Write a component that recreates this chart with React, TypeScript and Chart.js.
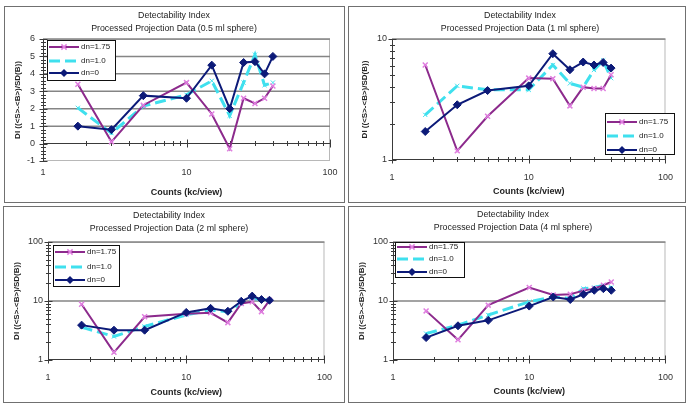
import React, { useEffect, useRef } from "react";
import { Chart, registerables } from "chart.js";

Chart.register(...registerables);

const FONT = '"Liberation Sans", Arial, Helvetica, sans-serif';
Chart.defaults.font.family = FONT;

// ---------------- data ----------------
const countsKcView = [1.75, 3, 5, 10, 15, 20, 25, 30, 35, 40];
const xTickValues = [1, 10, 100];
const seriesLabels = ["dn=1.75", "dn=1.0", "dn=0"];
const mainTitle = "Detectability Index";
const xTitle = "Counts (kc/view)";
const yTitle = "DI ((<S>-<B>)/SD(B))";

// 0.5 ml sphere (linear y)
const sphere05Title = "Processed Projection Data (0.5 ml sphere)";
const sphere05_dn175 = [3.4, 0.1, 2.2, 3.5, 1.7, -0.3, 2.6, 2.3, 2.6, 3.3];
const sphere05_dn10 = [2.05, 0.6, 2.15, 2.8, 3.6, 1.6, 3.5, 5.1, 3.35, 3.5];
const sphere05_dn0 = [1.0, 0.8, 2.75, 2.6, 4.5, 2.0, 4.65, 4.7, 4.0, 5.0];
const sphere05_yTicks = [-1, 0, 1, 2, 3, 4, 5, 6];

// 1 ml sphere (log y)
const sphere1Title = "Processed Projection Data (1 ml sphere)";
const sphere1_dn175 = [6.1, 1.19, 2.3, 4.75, 4.7, 2.8, 4.0, 3.9, 3.9, 5.06];
const sphere1_dn10 = [2.36, 4.1, 3.8, 3.8, 6.1, 4.3, 4.0, 5.55, 6.65, 4.75];
const sphere1_dn0 = [1.72, 2.86, 3.75, 4.1, 7.56, 5.57, 6.45, 6.1, 6.4, 5.75];
const sphere1_yTicks = [1, 10];

// 2 ml sphere (log y)
const sphere2Title = "Processed Projection Data (2 ml sphere)";
const sphere2_dn175 = [8.8, 1.35, 5.4, 6.1, 6.3, 4.3, 9.1, 9.7, 6.6, 10.3];
const sphere2_dn10 = [3.6, 2.5, 3.7, 5.8, 7.0, 6.6, 9.1, 11.0, 10.6, 10.3];
const sphere2_dn0 = [3.9, 3.2, 3.2, 6.4, 7.5, 6.7, 9.9, 12.1, 10.6, 10.3];
const sphere2_yTicks = [1, 10, 100];

// 4 ml sphere (log y)
const sphere4Title = "Processed Projection Data (4 ml sphere)";
const sphere4_dn175 = [6.8, 2.2, 8.5, 16.9, 12.6, 13.0, 15.0, 16.2, 18.5, 21.0];
const sphere4_dn10 = [2.8, 3.9, 5.8, 9.7, 11.7, 11.0, 16.2, 16.9, 18.5, 16.9];
const sphere4_dn0 = [2.4, 3.8, 4.7, 8.2, 11.7, 10.6, 13.0, 15.2, 16.2, 15.2];
const sphere4_yTicks = [1, 10, 100];

// ---------------- styles ----------------
const PURPLE = "#8c2a8c";
const PINK = "#e07ee0";
const CYAN = "#3fe0ee";
const NAVY = "#0c1a78";

function logMinor(min: number, max: number) {
  const out: number[] = [];
  for (let d = min; d < max; d *= 10) {
    for (let k = 2; k <= 9; k++) out.push(k * d);
  }
  return out;
}
function linMinor(min: number, max: number, step: number) {
  const out: number[] = [];
  const n = Math.round((max - min) / step);
  for (let i = 0; i <= n; i++) out.push(min + i * step);
  return out;
}

const decorPlugin = {
  id: "decor",
  beforeDatasetsDraw(chart: any, _a: any, o: any) {
    const { ctx, chartArea: a } = chart;
    const xs = chart.scales.x;
    const ys = chart.scales.y;
    const seg = (x1: number, y1: number, x2: number, y2: number) => {
      ctx.beginPath();
      ctx.moveTo(x1, y1);
      ctx.lineTo(x2, y2);
      ctx.stroke();
    };
    ctx.save();
    ctx.strokeStyle = "#b8b8b8";
    ctx.lineWidth = 1;
    ctx.strokeRect(a.left + 0.5, a.top + 0.5, a.right - a.left - 1, a.bottom - a.top - 1);
    ctx.strokeStyle = "#858585";
    ctx.lineWidth = 1.5;
    o.grid.forEach((v: number) => {
      const y = ys.getPixelForValue(v);
      seg(a.left, y, a.right, y);
    });
    ctx.strokeStyle = "#3a3a3a";
    ctx.lineWidth = 1;
    const ax = a.left + 0.5;
    seg(ax, a.top, ax, a.bottom);
    o.yMinor.forEach((v: number) => {
      const y = Math.round(ys.getPixelForValue(v)) + 0.5;
      seg(ax - 2.5, y, ax + 2.5, y);
    });
    o.yMajor.forEach((v: number) => {
      const y = Math.round(ys.getPixelForValue(v)) + 0.5;
      seg(ax - 4, y, ax + 4, y);
    });
    const y0 = Math.round(ys.getPixelForValue(o.xCross)) - 0.5;
    seg(a.left, y0, a.right, y0);
    o.xMinor.forEach((v: number) => {
      const x = Math.round(xs.getPixelForValue(v)) + 0.5;
      seg(x, y0 - 2.5, x, y0 + 2.5);
    });
    o.xMajor.forEach((v: number) => {
      const x = Math.round(xs.getPixelForValue(v)) + 0.5;
      seg(x, y0 - 4, x, y0 + 4);
    });
    ctx.restore();
  },
  afterDraw(chart: any, _a: any, o: any) {
    const { ctx } = chart;
    ctx.save();
    // titles
    ctx.fillStyle = "#222";
    ctx.font = `8.8px ${FONT}`;
    ctx.textAlign = "center";
    ctx.textBaseline = "middle";
    o.titleLines.forEach((t: string, i: number) => {
      ctx.fillText(t, o.titleX, o.titleY + i * o.titleGap);
    });
    // legend
    const L = o.legend;
    ctx.fillStyle = "#fff";
    ctx.fillRect(L.x, L.y, L.w, L.h);
    ctx.strokeStyle = "#111";
    ctx.lineWidth = 1;
    ctx.strokeRect(L.x + 0.5, L.y + 0.5, L.w - 1, L.h - 1);
    chart.data.datasets.forEach((ds: any, i: number) => {
      const ry = L.rows[i];
      const x1 = L.x + 2;
      const x2 = L.x + 32;
      ctx.save();
      ctx.strokeStyle = ds.borderColor;
      ctx.lineWidth = ds.borderWidth;
      ctx.setLineDash(ds.borderDash || []);
      ctx.beginPath();
      ctx.moveTo(x1, ry);
      ctx.lineTo(x2, ry);
      ctx.stroke();
      ctx.setLineDash([]);
      const mx = (x1 + x2) / 2;
      const r = ds.pointRadius;
      if (ds.pointStyle === "rectRot") {
        ctx.fillStyle = ds.pointBackgroundColor;
        ctx.beginPath();
        ctx.moveTo(mx, ry - r);
        ctx.lineTo(mx + r, ry);
        ctx.lineTo(mx, ry + r);
        ctx.lineTo(mx - r, ry);
        ctx.closePath();
        ctx.fill();
      } else if (ds.pointStyle === "crossRot" && ds.legendMarker) {
        ctx.strokeStyle = ds.pointBorderColor;
        ctx.lineWidth = ds.pointBorderWidth;
        const q = r * 0.75;
        ctx.beginPath();
        ctx.moveTo(mx - q, ry - q);
        ctx.lineTo(mx + q, ry + q);
        ctx.moveTo(mx + q, ry - q);
        ctx.lineTo(mx - q, ry + q);
        ctx.stroke();
      }
      ctx.restore();
      ctx.fillStyle = "#222";
      ctx.font = `8px ${FONT}`;
      ctx.textAlign = "left";
      ctx.textBaseline = "middle";
      ctx.fillText(ds.label, L.x + 34, ry);
    });
    ctx.restore();
  },
};

type Spec = {
  left: number;
  top: number;
  w: number;
  h: number;
  area: { left: number; right: number; top: number; bottom: number };
  title: string;
  titleX: number;
  titleY: number;
  yLinear: boolean;
  yTicks: number[];
  series: number[][];
  grid: number[];
  xCross: number;
  yLabelPad: number;
  xLabelPad: number;
  yTitleCenter: number;
  xTitleCenter: number;
  legend: { x: number; y: number; w: number; h: number; rows: number[] };
};

const specs: Spec[] = [
  {
    left: 4, top: 6, w: 341, h: 197,
    area: { left: 38, right: 325, top: 32, bottom: 154 },
    title: sphere05Title, titleX: 169, titleY: 9,
    yLinear: true, yTicks: sphere05_yTicks,
    series: [sphere05_dn175, sphere05_dn10, sphere05_dn0],
    grid: [1, 2, 3, 4, 5, 6], xCross: 0,
    yLabelPad: 8, xLabelPad: 6, yTitleCenter: 13, xTitleCenter: 186,
    legend: { x: 42, y: 33, w: 69, h: 41, rows: [40, 54, 66] },
  },
  {
    left: 348, top: 6, w: 338, h: 197,
    area: { left: 43, right: 328, top: 32, bottom: 153 },
    title: sphere1Title, titleX: 171, titleY: 9,
    yLinear: false, yTicks: sphere1_yTicks,
    series: [sphere1_dn175, sphere1_dn10, sphere1_dn0],
    grid: [10], xCross: 1,
    yLabelPad: 5, xLabelPad: 12, yTitleCenter: 16, xTitleCenter: 185,
    legend: { x: 256, y: 106, w: 70, h: 42, rows: [115, 129, 143] },
  },
  {
    left: 3, top: 206, w: 342, h: 197,
    area: { left: 44, right: 326, top: 35, bottom: 153 },
    title: sphere2Title, titleX: 165, titleY: 9,
    yLinear: false, yTicks: sphere2_yTicks,
    series: [sphere2_dn175, sphere2_dn10, sphere2_dn0],
    grid: [10, 100], xCross: 1,
    yLabelPad: 5, xLabelPad: 12, yTitleCenter: 13, xTitleCenter: 186,
    legend: { x: 49, y: 38, w: 67, h: 42, rows: [45, 60, 73] },
  },
  {
    left: 348, top: 206, w: 338, h: 197,
    area: { left: 44, right: 324, top: 35, bottom: 153 },
    title: sphere4Title, titleX: 164, titleY: 8,
    yLinear: false, yTicks: sphere4_yTicks,
    series: [sphere4_dn175, sphere4_dn10, sphere4_dn0],
    grid: [10, 100], xCross: 1,
    yLabelPad: 5, xLabelPad: 12, yTitleCenter: 13, xTitleCenter: 185,
    legend: { x: 46, y: 35, w: 70, h: 36, rows: [40, 52, 65] },
  },
];

function buildConfig(s: Spec, cw: number, chh: number): any {
  const pts = (vals: number[]) => countsKcView.map((x, i) => ({ x, y: vals[i] }));
  const yMin = s.yTicks[0];
  const yMax = s.yTicks[s.yTicks.length - 1];
  const tickFont = { size: 9, family: FONT };
  const xLh = 9 * 1.2;
  const yLh = 8 * 1.2;
  return {
    type: "line",
    data: {
      datasets: [
        {
          label: seriesLabels[0],
          data: pts(s.series[0]),
          borderColor: PURPLE,
          borderWidth: 2,
          pointStyle: "crossRot",
          pointRadius: 3.5,
          pointBorderColor: PINK,
          pointBackgroundColor: PINK,
          pointBorderWidth: 1.5,
          legendMarker: true,
          order: 1,
        },
        {
          label: seriesLabels[1],
          data: pts(s.series[1]),
          borderColor: CYAN,
          borderWidth: 3,
          borderDash: [11, 5],
          pointStyle: "crossRot",
          pointRadius: 3,
          pointBorderColor: CYAN,
          pointBackgroundColor: CYAN,
          pointBorderWidth: 1,
          legendMarker: false,
          order: 2,
        },
        {
          label: seriesLabels[2],
          data: pts(s.series[2]),
          borderColor: NAVY,
          borderWidth: 2,
          pointStyle: "rectRot",
          pointRadius: 4,
          pointBorderColor: NAVY,
          pointBackgroundColor: NAVY,
          pointBorderWidth: 1,
          order: 0,
        },
      ],
    },
    options: {
      responsive: false,
      maintainAspectRatio: false,
      animation: false,
      devicePixelRatio: 1,
      layout: { padding: { left: 0, right: cw - s.area.right, top: s.area.top, bottom: 0 } },
      plugins: {
        legend: { display: false },
        tooltip: { enabled: false },
        title: { display: false },
        decor: {
          grid: s.grid,
          xCross: s.xCross,
          yMajor: s.yTicks,
          yMinor: s.yLinear ? linMinor(yMin, yMax, 0.2) : logMinor(yMin, yMax),
          xMajor: xTickValues,
          xMinor: logMinor(1, 100),
          titleLines: [mainTitle, s.title],
          titleX: s.titleX,
          titleY: s.titleY,
          titleGap: 13,
          legend: s.legend,
        },
      },
      scales: {
        x: {
          type: "logarithmic",
          min: 1,
          max: 100,
          afterBuildTicks: (sc: any) => {
            sc.ticks = xTickValues.map((v) => ({ value: v }));
          },
          afterFit: (sc: any) => {
            sc.height = chh - s.area.bottom;
          },
          grid: { display: false, drawTicks: false },
          border: { display: false },
          ticks: {
            font: tickFont,
            color: "#333",
            padding: s.xLabelPad,
            autoSkip: false,
            maxRotation: 0,
            callback: (v: any) => String(v),
          },
          title: {
            display: true,
            text: xTitle,
            color: "#222",
            font: { size: 9, weight: "bold", family: FONT },
            padding: { top: 0, bottom: chh - s.xTitleCenter - xLh / 2 },
          },
        },
        y: {
          type: s.yLinear ? "linear" : "logarithmic",
          min: yMin,
          max: yMax,
          afterBuildTicks: (sc: any) => {
            sc.ticks = s.yTicks.map((v) => ({ value: v }));
          },
          afterFit: (sc: any) => {
            sc.width = s.area.left;
          },
          grid: { display: false, drawTicks: false },
          border: { display: false },
          ticks: {
            font: tickFont,
            color: "#333",
            padding: s.yLabelPad,
            autoSkip: false,
            callback: (v: any) => String(v),
          },
          title: {
            display: true,
            text: yTitle,
            color: "#222",
            font: { size: 8, weight: "bold", family: FONT },
            padding: { top: s.yTitleCenter - yLh / 2, bottom: 0 },
          },
        },
      },
    },
    plugins: [decorPlugin],
  };
}

function Panel({ spec }: { spec: Spec }) {
  const ref = useRef<HTMLCanvasElement | null>(null);
  const cw = spec.w - 2;
  const chh = spec.h - 2;
  useEffect(() => {
    if (!ref.current) return;
    const chart = new Chart(ref.current, buildConfig(spec, cw, chh));
    return () => chart.destroy();
  }, []);
  return (
    <div
      style={{
        position: "absolute",
        left: spec.left,
        top: spec.top,
        width: spec.w,
        height: spec.h,
        border: "1px solid #707070",
        boxSizing: "border-box",
        background: "#fff",
      }}
    >
      <canvas ref={ref} width={cw} height={chh} style={{ display: "block", width: cw, height: chh }} />
    </div>
  );
}

export default function App() {
  return (
    <div
      style={{
        position: "fixed",
        left: 0,
        top: 0,
        width: 687,
        height: 408,
        background: "#fff",
        overflow: "hidden",
      }}
    >
      {specs.map((s, i) => (
        <Panel key={i} spec={s} />
      ))}
    </div>
  );
}
